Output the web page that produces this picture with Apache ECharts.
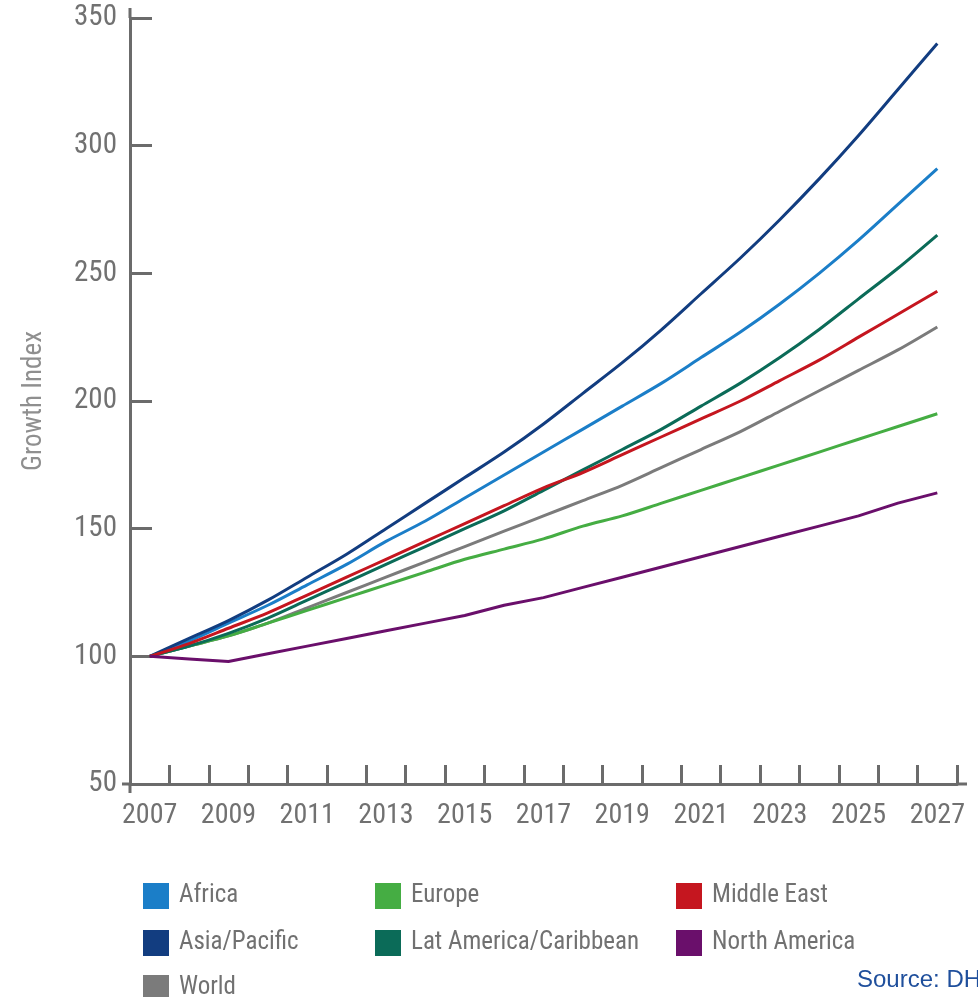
<!DOCTYPE html>
<html>
<head>
<meta charset="utf-8">
<style>
  html, body { margin: 0; padding: 0; background: #ffffff; }
  #chart { width: 978px; height: 997px; }
</style>
<script src="https://cdn.jsdelivr.net/npm/echarts@6/dist/echarts.min.js"></script>
</head>
<body>
<div id="chart"></div>
<script>
// Years on the horizontal axis
const years = ['2007','2008','2009','2010','2011','2012','2013','2014','2015','2016','2017',
               '2018','2019','2020','2021','2022','2023','2024','2025','2026','2027'];

// Growth index by region (2007 = 100)
const africa       = [100,106,113,120,128,136,145,153,162,171,180,189,198,207,217,227,238,250,263,277,291];
const asiaPacific  = [100,107,114,122,131,140,150,160,170,180,191,203,215,228,242,256,271,287,304,322,340];
const world        = [100,104,108,113,119,125,131,137,143,149,155,161,167,174,181,188,196,204,212,220,229];
const europe       = [100,104,108,113,118,123,128,133,138,142,146,151,155,160,165,170,175,180,185,190,195];
const latAmerica   = [100,104,109,115,122,129,136,143,150,157,165,173,181,189,198,207,217,228,240,252,265];
const middleEast   = [100,105,111,117,124,131,138,145,152,159,166,172,179,186,193,200,208,216,225,234,243];
const northAmerica = [100, 99, 98,101,104,107,110,113,116,120,123,127,131,135,139,143,147,151,155,160,164];

// Y axis range
const yMin = 50, yMax = 350, yStep = 50;

const regions = [
  { name: 'Africa',                data: africa,       color: '#1b7ec8' },
  { name: 'Asia/Pacific',          data: asiaPacific,  color: '#123d80' },
  { name: 'World',                 data: world,        color: '#7b7b7b' },
  { name: 'Europe',                data: europe,       color: '#45ad43' },
  { name: 'Lat America/Caribbean', data: latAmerica,   color: '#0b6b58' },
  { name: 'Middle East',           data: middleEast,   color: '#c5161f' },
  { name: 'North America',         data: northAmerica, color: '#6a0f6b' }
];

// Prefer a condensed face when one is installed; otherwise a plain sans at a smaller size
function fontInstalled(name) {
  const ctx = document.createElement('canvas').getContext('2d');
  const sample = '0123456789 Growth Index Africa';
  ctx.font = '40px monospace';
  const base = ctx.measureText(sample).width;
  ctx.font = '40px "' + name + '", monospace';
  return ctx.measureText(sample).width !== base;
}
const condensedCandidates = ['Roboto Condensed', 'Noto Sans Condensed', 'Liberation Sans Narrow',
                             'DejaVu Sans Condensed', 'Open Sans Condensed'];
const condensedFace = condensedCandidates.find(fontInstalled);
const labelFont = condensedFace ? "'" + condensedFace + "', sans-serif" : "'Liberation Sans', Arial, sans-serif";
const size = condensedFace
  ? { y: 29, x: 28, legend: 25, name: 27 }
  : { y: 26, x: 25, legend: 22, name: 23 };

const axisGrey = '#6b6b6b';
const textGrey = '#717171';

// Plot area
const W = 978, H = 997;
const grid = { left: 130, top: 18, right: 21, bottom: 213 };
const plotRight = W - grid.right;
const plotBottom = H - grid.bottom;

// Short overhangs where the two axis lines run past the plot corner
function axisStub(x1, y1, x2, y2) {
  return {
    type: 'line',
    silent: true,
    shape: { x1: x1, y1: y1, x2: x2, y2: y2 },
    style: { stroke: axisGrey, lineWidth: 3 }
  };
}

function legendBlock(left, top, names) {
  return {
    orient: 'vertical',
    left: left,
    top: top,
    padding: 0,
    itemWidth: 26,
    itemHeight: 26,
    itemGap: 21,
    icon: 'rect',
    data: names,
    textStyle: {
      fontFamily: labelFont,
      fontSize: size.legend,
      color: textGrey,
      padding: [0, 0, 0, 5]
    }
  };
}

const chart = echarts.init(document.getElementById('chart'), null, { renderer: 'canvas' });

chart.setOption({
  backgroundColor: '#ffffff',
  animation: false,
  grid: { left: grid.left, right: grid.right, top: grid.top, bottom: grid.bottom, containLabel: false },
  xAxis: {
    type: 'category',
    data: years,
    boundaryGap: true,
    axisLine: { show: true, lineStyle: { color: axisGrey, width: 3 } },
    axisTick: { show: true, inside: true, length: 19, interval: 0, lineStyle: { color: axisGrey, width: 3 } },
    axisLabel: {
      interval: 1,
      margin: 18,
      fontFamily: labelFont,
      fontSize: size.x,
      color: textGrey
    },
    splitLine: { show: false }
  },
  yAxis: {
    type: 'value',
    min: yMin,
    max: yMax,
    interval: yStep,
    name: 'Growth Index',
    nameLocation: 'middle',
    nameRotate: 90,
    nameGap: 82,
    nameTextStyle: { fontFamily: labelFont, fontSize: size.name, color: '#8f8f8f' },
    axisLine: { show: true, lineStyle: { color: axisGrey, width: 3 } },
    axisTick: { show: true, inside: true, length: 22, lineStyle: { color: axisGrey, width: 3 } },
    axisLabel: {
      margin: 13,
      fontFamily: labelFont,
      fontSize: size.y,
      color: textGrey
    },
    splitLine: { show: false }
  },
  legend: [
    legendBlock(143, 883, ['Africa', 'Asia/Pacific']),
    legendBlock(143, 975, ['World']),
    legendBlock(375, 883, ['Europe', 'Lat America/Caribbean']),
    legendBlock(676, 883, ['Middle East', 'North America'])
  ],
  graphic: [
    axisStub(grid.left, grid.top - 10, grid.left, grid.top),
    axisStub(grid.left, plotBottom, grid.left, plotBottom + 9),
    axisStub(grid.left - 8, plotBottom, grid.left, plotBottom),
    axisStub(plotRight, plotBottom, plotRight + 10, plotBottom),
    {
      type: 'text',
      left: 857,
      top: 968,
      style: {
        text: 'Source: DHL',
        fontFamily: "'Liberation Sans', Arial, sans-serif",
        fontSize: 24,
        fill: '#1f4f9c'
      }
    }
  ],
  series: regions.map(r => ({
    name: r.name,
    type: 'line',
    data: r.data,
    showSymbol: false,
    symbol: 'none',
    smooth: r.name === 'North America' ? false : 0.3,
    color: r.color,
    itemStyle: { color: r.color },
    lineStyle: { color: r.color, width: 3 }
  }))
});
</script>
</body>
</html>
